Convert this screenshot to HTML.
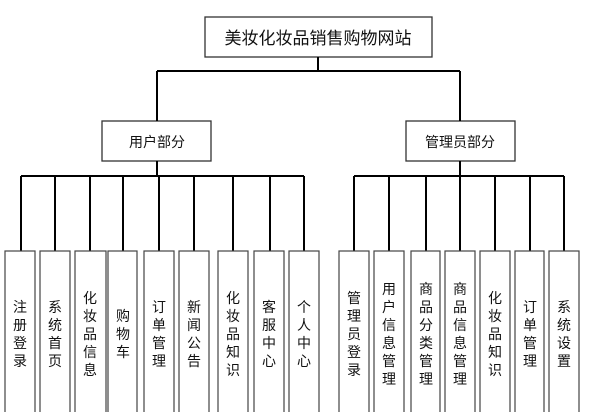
<!DOCTYPE html>
<html><head><meta charset="utf-8"><style>
body{margin:0;background:#fff;}
svg text{font-family:"Liberation Sans","Noto Sans CJK SC",sans-serif;fill:#111;}
</style></head><body>
<svg width="600" height="412" viewBox="0 0 600 412" xmlns="http://www.w3.org/2000/svg">
<g fill="#fff" stroke="#333" stroke-width="1.3">
<rect x="205" y="17" width="227" height="40"/>
<rect x="102" y="121" width="109" height="40"/>
<rect x="406" y="121" width="109" height="40"/>
</g>
<text x="318" y="44" font-size="17" text-anchor="middle">美妆化妆品销售购物网站</text>
<text x="157" y="147" font-size="14" text-anchor="middle">用户部分</text>
<text x="460" y="147" font-size="14" text-anchor="middle">管理员部分</text>
<g stroke="#000" stroke-width="2" fill="none">
<path d="M318 57V71M157 71H460M157 71V121M460 71V121M157 161V176M460 161V176"/>
<path d="M21 176H304M354 176H564"/>
<path d="M21 176V251M55 176V251M90 176V251M123 176V251M159 176V251M194 176V251M233 176V251M270 176V251M304 176V251"/>
<path d="M354 176V251M389 176V251M426 176V251M460 176V251M495 176V251M530 176V251M564 176V251"/>
</g>
<g fill="#fff" stroke="#444" stroke-width="1.2">
<rect x="5" y="251" width="30" height="170"/><rect x="40" y="251" width="30" height="170"/>
<rect x="75" y="251" width="31" height="170"/><rect x="108" y="251" width="29" height="170"/>
<rect x="144" y="251" width="30" height="170"/><rect x="179" y="251" width="30" height="170"/>
<rect x="218" y="251" width="30" height="170"/><rect x="254" y="251" width="30" height="170"/>
<rect x="289" y="251" width="30" height="170"/>
<rect x="339" y="251" width="30" height="170"/><rect x="374" y="251" width="30" height="170"/>
<rect x="411" y="251" width="29" height="170"/><rect x="445" y="251" width="30" height="170"/>
<rect x="480" y="251" width="30" height="170"/><rect x="515" y="251" width="29" height="170"/>
<rect x="549" y="251" width="30" height="170"/>
</g>
<g font-size="14" text-anchor="middle">
<text x="20" y="312">注</text><text x="20" y="330">册</text><text x="20" y="348">登</text><text x="20" y="366">录</text>
<text x="55" y="312">系</text><text x="55" y="330">统</text><text x="55" y="348">首</text><text x="55" y="366">页</text>
<text x="90" y="303">化</text><text x="90" y="321">妆</text><text x="90" y="339">品</text><text x="90" y="357">信</text><text x="90" y="375">息</text>
<text x="123" y="321">购</text><text x="123" y="339">物</text><text x="123" y="357">车</text>
<text x="159" y="312">订</text><text x="159" y="330">单</text><text x="159" y="348">管</text><text x="159" y="366">理</text>
<text x="194" y="312">新</text><text x="194" y="330">闻</text><text x="194" y="348">公</text><text x="194" y="366">告</text>
<text x="233" y="303">化</text><text x="233" y="321">妆</text><text x="233" y="339">品</text><text x="233" y="357">知</text><text x="233" y="375">识</text>
<text x="269" y="312">客</text><text x="269" y="330">服</text><text x="269" y="348">中</text><text x="269" y="366">心</text>
<text x="304" y="312">个</text><text x="304" y="330">人</text><text x="304" y="348">中</text><text x="304" y="366">心</text>
<text x="354" y="303">管</text><text x="354" y="321">理</text><text x="354" y="339">员</text><text x="354" y="357">登</text><text x="354" y="375">录</text>
<text x="389" y="294">用</text><text x="389" y="312">户</text><text x="389" y="330">信</text><text x="389" y="348">息</text><text x="389" y="366">管</text><text x="389" y="384">理</text>
<text x="426" y="294">商</text><text x="426" y="312">品</text><text x="426" y="330">分</text><text x="426" y="348">类</text><text x="426" y="366">管</text><text x="426" y="384">理</text>
<text x="460" y="294">商</text><text x="460" y="312">品</text><text x="460" y="330">信</text><text x="460" y="348">息</text><text x="460" y="366">管</text><text x="460" y="384">理</text>
<text x="495" y="303">化</text><text x="495" y="321">妆</text><text x="495" y="339">品</text><text x="495" y="357">知</text><text x="495" y="375">识</text>
<text x="530" y="312">订</text><text x="530" y="330">单</text><text x="530" y="348">管</text><text x="530" y="366">理</text>
<text x="564" y="312">系</text><text x="564" y="330">统</text><text x="564" y="348">设</text><text x="564" y="366">置</text>
</g>
</svg>
</body></html>
